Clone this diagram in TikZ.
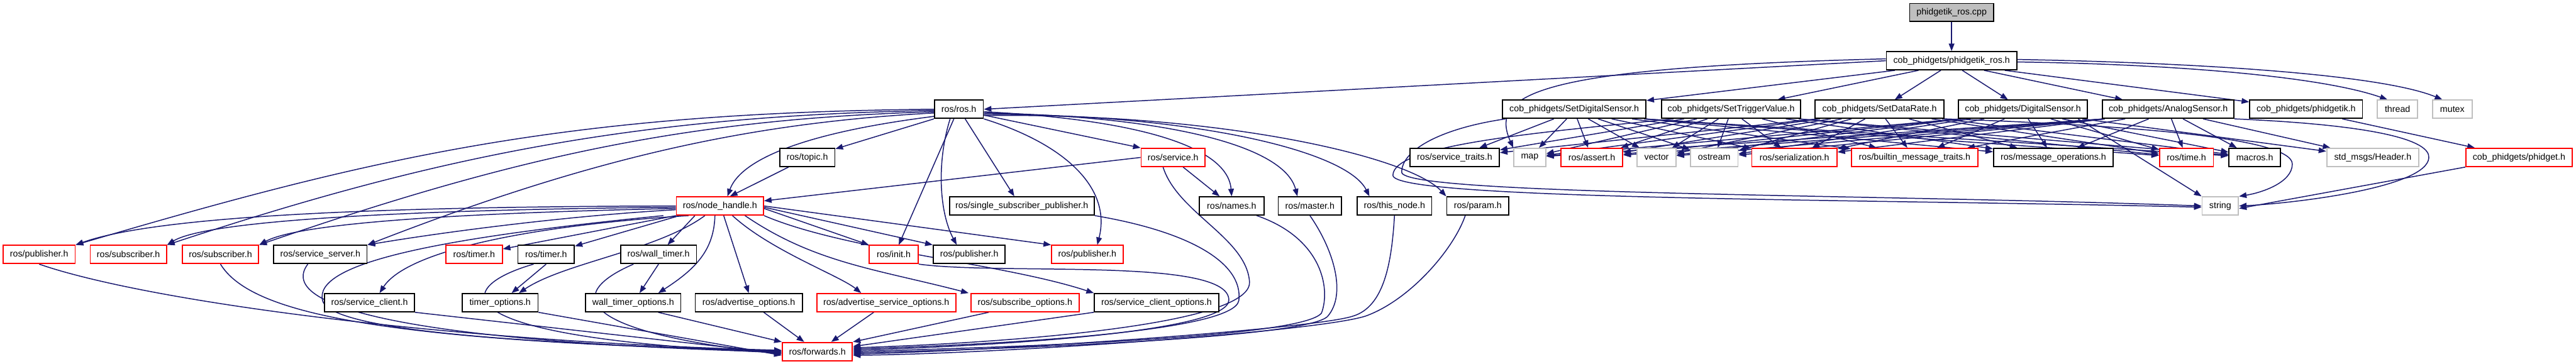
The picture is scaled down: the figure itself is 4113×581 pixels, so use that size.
\documentclass[tikz,border=0pt]{standalone}
\usepackage{fontspec}
\setmainfont{Liberation Sans}
\usetikzlibrary{arrows.meta,backgrounds,calc}
\definecolor{edgec}{HTML}{191970}
\definecolor{gry}{HTML}{BFBFBF}
\newcommand\fsz{\fontsize{7.15}{8}\selectfont}
\newcommand\medge[3][0.17]{%
  \draw[e] let \p1=(#2.south), \p2=(#3.center), \p3=(#2.south east),
    \n1={\x3-\x1-2pt}, \n2={max(-\n1,min(\n1,#1*(\x2-\x1)))} in
    ({\x1+\n2*1pt},{\y1}) -- (#3);}
\tikzset{
  box/.style={rectangle, inner sep=0pt, minimum height=14.5pt, font=\fsz, fill=white, line width=0.9pt},
  bk/.style={box, draw=black},
  rd/.style={box, draw=red},
  gy/.style={box, draw=gry},
  rt/.style={box, draw=black, fill=gry},
  e/.style={draw=edgec, line width=0.75pt, -{Triangle[length=6pt,width=4.5pt]}},
}
\newcommand\nd[6]{\node[#2, minimum width=#5*0.5pt] (#1) at (#3,#4) {#6};}
\begin{document}
\begin{tikzpicture}[x=0.5pt,y=-0.5pt]
\useasboundingbox (0,0) rectangle (4113,581);
% nodes
\nd{root}{rt}{3116}{20}{134}{phidgetik\_ros.cpp}
\nd{prh}{bk}{3116}{97}{208}{cob\_phidgets/phidgetik\_ros.h}
% row 1
\nd{ros}{bk}{1531}{174.5}{78}{ros/ros.h}
\nd{sds}{bk}{2513.5}{174.5}{229}{cob\_phidgets/SetDigitalSensor.h}
\nd{stv}{bk}{2764}{174.5}{222}{cob\_phidgets/SetTriggerValue.h}
\nd{sdr}{bk}{3001}{174.5}{206}{cob\_phidgets/SetDataRate.h}
\nd{ds}{bk}{3230}{174.5}{206}{cob\_phidgets/DigitalSensor.h}
\nd{as}{bk}{3462}{174.5}{210}{cob\_phidgets/AnalogSensor.h}
\nd{pk}{bk}{3682}{174.5}{180}{cob\_phidgets/phidgetik.h}
\nd{thr}{gy}{3828}{174.5}{64}{thread}
\nd{mtx}{gy}{3915.5}{174.5}{63}{mutex}
% row 2
\nd{topic}{bk}{1289}{251.5}{88}{ros/topic.h}
\nd{srv}{rd}{1873}{251.5}{102}{ros/service.h}
\nd{svt}{bk}{2322.5}{251.5}{143}{ros/service\_traits.h}
\nd{map}{gy}{2442.5}{251.5}{51}{map}
\nd{ast}{rd}{2541.5}{251.5}{99}{ros/assert.h}
\nd{vec}{gy}{2645}{251.5}{62}{vector}
\nd{ost}{gy}{2737}{251.5}{76}{ostream}
\nd{ser}{rd}{2865}{251.5}{136}{ros/serialization.h}
\nd{bmt}{rd}{3057}{251.5}{202}{ros/builtin\_message\_traits.h}
\nd{mop}{bk}{3278.5}{251.5}{191}{ros/message\_operations.h}
\nd{time}{rd}{3491}{251.5}{86}{ros/time.h}
\nd{mac}{bk}{3600}{251.5}{82}{macros.h}
\nd{hdr}{gy}{3788.5}{251.5}{147}{std\_msgs/Header.h}
\nd{phg}{rd}{4022}{251.5}{170}{cob\_phidgets/phidget.h}
% row 3
\nd{nh}{rd}{1149.5}{329}{139}{ros/node\_handle.h}
\nd{ssp}{bk}{1631.5}{329}{231}{ros/single\_subscriber\_publisher.h}
\nd{nam}{bk}{1966.5}{329}{103}{ros/names.h}
\nd{mst}{bk}{2091.5}{329}{101}{ros/master.h}
\nd{thn}{bk}{2226.5}{329}{119}{ros/this\_node.h}
\nd{prm}{bk}{2359.5}{329}{99}{ros/param.h}
\nd{str}{gy}{3545}{329}{58}{string}
% row 4
\nd{pubA}{rd}{62.5}{406.5}{115}{ros/publisher.h}
\nd{subA}{rd}{205}{406.5}{122}{ros/subscriber.h}
\nd{subB}{rd}{352}{406.5}{122}{ros/subscriber.h}
\nd{ssv}{bk}{511.5}{406.5}{149}{ros/service\_server.h}
\nd{tmA}{rd}{757}{406.5}{90}{ros/timer.h}
\nd{tmB}{bk}{872}{406.5}{90}{ros/timer.h}
\nd{wtm}{bk}{1051.5}{406.5}{121}{ros/wall\_timer.h}
\nd{ini}{rd}{1427}{406.5}{78}{ros/init.h}
\nd{pubB}{bk}{1547.5}{406.5}{115}{ros/publisher.h}
\nd{pubC}{rd}{1736}{406.5}{114}{ros/publisher.h}
% row 5
\nd{scl}{bk}{590}{483.5}{144}{ros/service\_client.h}
\nd{tmo}{bk}{798.5}{483.5}{121}{timer\_options.h}
\nd{wto}{bk}{1011}{483.5}{152}{wall\_timer\_options.h}
\nd{ado}{bk}{1195.5}{483.5}{171}{ros/advertise\_options.h}
\nd{aso}{rd}{1415}{483.5}{222}{ros/advertise\_service\_options.h}
\nd{sbo}{rd}{1636.5}{483.5}{173}{ros/subscribe\_options.h}
\nd{sco}{bk}{1846.5}{483.5}{199}{ros/service\_client\_options.h}
% row 6
\nd{fwd}{rd}{1305}{561.5}{112}{ros/forwards.h}

\begin{scope}[on background layer]
\fill[white] (0,0) rectangle (4113,581);
% top
\draw[e] (root) -- (prh);
\draw[e] (prh.west) -- (ros.east);
\draw[e] ([yshift=1.5pt]prh.west) .. controls (2450,108) and (2378,150) .. (map.north west);
\foreach \tg in {sds,stv,sdr,ds,as,pk}{\medge[0.15]{prh}{\tg}}
\draw[e] ([yshift=-1pt]prh.east) .. controls (3450,102) and (3700,120) .. ([xshift=-8pt]thr.north);
\draw[e] ([yshift=1pt]prh.east) .. controls (3500,100) and (3800,118) .. ([xshift=-8pt]mtx.north);
% message headers
\foreach \mm in {sds,stv,sdr,ds,as}{
  \foreach \tg in {map,ast,vec,ost,ser,bmt,mop,time,mac}{\medge{\mm}{\tg}}}
\foreach \mm in {sds,stv,sdr}{\medge{\mm}{svt}}
\foreach \mm in {ds,as}{\medge{\mm}{hdr}}
\medge{pk}{phg}
% to string
\draw[e] ([xshift=3pt]sds.south west) .. controls (2300,205) and (2238,240) .. (2238,275) .. controls (2238,312) and (3000,310) .. (str.west);
\draw[e] ([xshift=10pt]stv.south west) .. controls (2450,212) and (2224,232) .. (2224,280) .. controls (2224,320) and (3000,318) .. ([yshift=-1pt]str.west);
\draw[e] (sdr.south east) .. controls (3400,200) and (3660,220) .. (3660,262) .. controls (3660,292) and (3610,308) .. (str.north east);
\draw[e] ([xshift=-8pt]ds.south east) -- (str.north west);
\draw[e] (as.south east) .. controls (3800,200) and (3880,225) .. (3878,252) .. controls (3875,300) and (3660,325) .. (str.east);
\draw[e] (phg.south west) -- ([yshift=-2pt]str.east);
% ros.h
\draw[e] (ros.south west) -- (topic);
\draw[e] ([yshift=2pt]ros.south west) .. controls (1260,215) and (1180,262) .. ([xshift=6pt]nh.north);
\draw[e] (ros.west) .. controls (900,180) and (600,250) .. (pubA.north east);
\draw[e] ([yshift=-1pt]ros.west) .. controls (1000,185) and (680,255) .. (subA.north east);
\draw[e] ([yshift=-2pt]ros.west) .. controls (1100,190) and (830,248) .. (subB.north east);
\draw[e] ([yshift=-3pt]ros.west) .. controls (1200,196) and (950,250) .. (ssv.north east);
\draw[e] ([xshift=-4pt]ros.south) -- ([xshift=4pt]ini.north);
\draw[e] ([xshift=-7pt]ros.south) .. controls (1495,260) and (1500,340) .. ([xshift=-10pt]pubB.north);
\draw[e] ([xshift=5pt]ros.south) -- ([xshift=-6pt]ssp.north);
\draw[e] (ros.south east) .. controls (1700,230) and (1775,300) .. ([xshift=8pt]pubC.north);
\draw[e] ([yshift=3pt]ros.south east) -- (srv.north west);
\draw[e] ([yshift=-2pt]ros.east) .. controls (1800,190) and (1960,230) .. (nam.north);
\draw[e] ([yshift=-3pt]ros.east) .. controls (1850,185) and (2050,230) .. ([xshift=-10pt]mst.north);
\draw[e] ([yshift=-4pt]ros.east) .. controls (1900,182) and (2150,240) .. ([xshift=-20pt]thn.north);
\draw[e] ([yshift=-5pt]ros.east) .. controls (1950,180) and (2250,250) .. (prm.north west);
% service.h, topic.h
\draw[e] (srv.west) -- (nh);
\draw[e] ([xshift=8pt]srv.south) -- (nam);
\draw[e] ([xshift=-15pt]topic.south) -- ([xshift=8pt]nh.north);
% node_handle.h
\draw[e] (nh.west) .. controls (600,330) and (250,345) .. (pubA.north east);
\draw[e] ([yshift=-1pt]nh.west) .. controls (650,335) and (330,352) .. (subA.north east);
\draw[e] ([yshift=-2pt]nh.west) .. controls (750,340) and (480,355) .. (subB.north east);
\draw[e] ([yshift=-3pt]nh.west) .. controls (900,345) and (700,372) .. (ssv.north east);
\draw[e] (nh.south west) -- (tmA);
\draw[e] ([xshift=3pt]nh.south west) -- (tmB);
\draw[e] ([xshift=-20pt]nh.south) -- (wtm);
\draw[e] ([xshift=-25pt]nh.south) .. controls (850,360) and (650,400) .. ([xshift=8pt]scl.north);
\draw[e] ([xshift=-12pt]nh.south) .. controls (1050,400) and (900,420) .. ([xshift=15pt]tmo.north);
\draw[e] ([xshift=-4pt]nh.south) .. controls (1140,400) and (1110,430) .. ([xshift=20pt]wto.north);
\draw[e] ([xshift=3pt]nh.south) -- (ado.north);
\draw[e] ([xshift=10pt]nh.south) .. controls (1230,400) and (1340,440) .. ([xshift=-20pt]aso.north);
\draw[e] ([xshift=20pt]nh.south) .. controls (1300,420) and (1400,430) .. ([xshift=-45pt]sbo.north);
\draw[e] (nh.south east) .. controls (1350,400) and (1600,420) .. ([xshift=-50pt]sco.north);
\draw[e] ([yshift=-2pt]nh.east) -- (ini.north west);
\draw[e] ([yshift=-1pt]nh.east) -- (pubB.north west);
\draw[e] (nh.east) -- (pubC.north west);
\draw[e] (tmB.south) -- (tmo);
\draw[e] (wtm.south) -- (wto);
% to forwards, left
\draw[e] ([xshift=-10pt]nh.south west) .. controls (700,380) and (500,420) .. (515,480) .. controls (530,540) and (1000,552) .. (fwd.west);
\draw[e] (pubA.south) .. controls (230,480) and (700,545) .. ([yshift=1pt]fwd.west);
\draw[e] (subB.south) .. controls (400,500) and (600,545) .. ([yshift=0.5pt]fwd.west);
\draw[e] ([xshift=-10pt]ssv.south) .. controls (440,490) and (650,545) .. ([yshift=-0.5pt]fwd.west);
\draw[e] ([xshift=-10pt]tmB.south) .. controls (720,460) and (700,540) .. ([yshift=-1pt]fwd.west);
\draw[e] ([xshift=-20pt]wtm.south) .. controls (900,470) and (920,530) .. ([yshift=-2pt]fwd.west);
\draw[e] (scl.south east) -- ([yshift=-1.5pt]fwd.west);
\draw[e] (tmo.south east) -- ([yshift=-3pt]fwd.west);
\draw[e] ([xshift=20pt]wto.south) -- (fwd.north west);
\draw[e] ([xshift=12pt]ado.south) -- (fwd);
\draw[e] ([xshift=-10pt]aso.south) -- (fwd);
\draw[e] ([xshift=-29pt]sbo.south) -- (fwd.north east);
\draw[e] (sco.south west) -- (fwd);
% to forwards, right
\draw[e] ([xshift=-8pt]srv.south) .. controls (1880,340) and (1990,380) .. (1995,450) .. controls (2000,520) and (1600,548) .. ([yshift=3pt]fwd.east);
\draw[e] (ssp.south east) .. controls (1900,370) and (1985,420) .. (1978,480) .. controls (1970,530) and (1600,550) .. ([yshift=2pt]fwd.east);
\draw[e] (ini.south east) .. controls (1600,440) and (1965,410) .. (1962,480) .. controls (1958,530) and (1600,552) .. ([yshift=1pt]fwd.east);
\draw[e] ([xshift=20pt]nam.south) .. controls (2110,380) and (2125,460) .. (2110,500) .. controls (2080,540) and (1600,555) .. (fwd.east);
\draw[e] (mst.south) .. controls (2130,400) and (2150,470) .. (2120,505) .. controls (2090,540) and (1600,558) .. ([yshift=-1pt]fwd.east);
\draw[e] (thn.south) .. controls (2222,420) and (2210,490) .. (2160,505) .. controls (2100,525) and (1600,560) .. ([yshift=-2pt]fwd.east);
\draw[e] ([xshift=-10pt]prm.south) .. controls (2320,400) and (2250,480) .. (2180,505) .. controls (2100,530) and (1600,565) .. ([yshift=-3pt]fwd.east);
\end{scope}
\end{tikzpicture}
\end{document}
